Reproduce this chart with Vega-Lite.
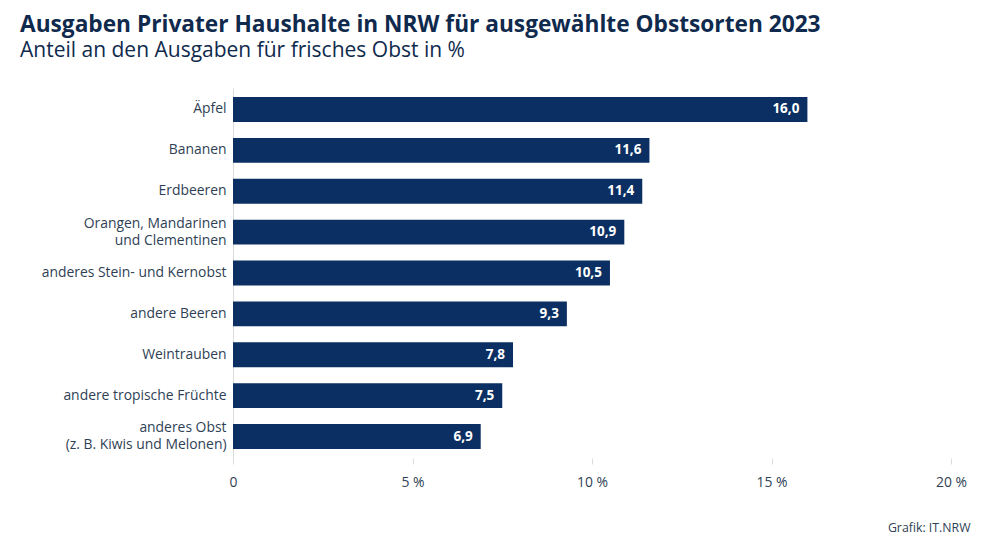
{
  "$schema": "https://vega.github.io/schema/vega-lite/v6.json",
  "autosize": "none",
  "width": 718,
  "height": 370,
  "padding": {"left": 233, "top": 88, "right": 48, "bottom": 84},
  "background": "white",
  "config": {
    "locale": {"number": {"decimal": ",", "thousands": ".", "grouping": [3], "currency": ["", " €"]}},
    "font": "Open Sans",
    "view": {"stroke": null}
  },
  "title": {
    "text": "Ausgaben Privater Haushalte in NRW für ausgewählte Obstsorten 2023",
    "subtitle": "Anteil an den Ausgaben für frisches Obst in %",
    "anchor": "start",
    "frame": "group",
    "dx": -213,
    "offset": 27,
    "font": "Open Sans",
    "fontSize": 22.7,
    "fontWeight": "bold",
    "color": "#0f2a4d",
    "subtitleFont": "Open Sans",
    "subtitleFontSize": 21,
    "subtitleColor": "#0f2a4d",
    "subtitlePadding": 3
  },
  "data": {
    "values": [
      {"sorte": "Äpfel", "anteil": 16.0},
      {"sorte": "Bananen", "anteil": 11.6},
      {"sorte": "Erdbeeren", "anteil": 11.4},
      {"sorte": "Orangen, Mandarinen|und Clementinen", "anteil": 10.9},
      {"sorte": "anderes Stein- und Kernobst", "anteil": 10.5},
      {"sorte": "andere Beeren", "anteil": 9.3},
      {"sorte": "Weintrauben", "anteil": 7.8},
      {"sorte": "andere tropische Früchte", "anteil": 7.5},
      {"sorte": "anderes Obst|(z. B. Kiwis und Melonen)", "anteil": 6.9}
    ]
  },
  "encoding": {
    "y": {
      "field": "sorte",
      "type": "nominal",
      "sort": null,
      "scale": {"paddingInner": 0.39, "paddingOuter": 0.22},
      "axis": {
        "title": null,
        "labelExpr": "split(datum.label, '|')",
        "labelFont": "Open Sans",
        "labelFontSize": 13.9,
        "labelColor": "#2f3f55",
        "labelLineHeight": 17,
        "labelOffset": {"condition": {"test": "indexof(datum.value, '|') >= 0", "value": -8.5}, "value": 0},
        "labelPadding": 7,
        "ticks": false,
        "domain": true,
        "domainColor": "#dcdcdc",
        "domainWidth": 1,
        "labelLimit": 300
      }
    },
    "x": {
      "field": "anteil",
      "type": "quantitative",
      "scale": {"domain": [0, 20], "nice": false},
      "axis": {
        "title": "Grafik: IT.NRW",
        "titleFont": "Open Sans",
        "titleFontSize": 12.3,
        "titleFontWeight": "normal",
        "titleColor": "#2f3f55",
        "titleAnchor": "end",
        "titleAlign": "right",
        "titleBaseline": "middle",
        "titleX": 737,
        "titleY": 69,
        "values": [0, 5, 10, 15, 20],
        "labelExpr": "datum.value == 0 ? '0' : datum.value + ' %'",
        "labelFont": "Open Sans",
        "labelFontSize": 13.9,
        "labelColor": "#2f3f55",
        "labelPadding": 11,
        "grid": false,
        "domain": false,
        "ticks": true,
        "tickColor": "#dcdcdc",
        "tickSize": 6,
        "labelFlush": false
      }
    }
  },
  "layer": [
    {"mark": {"type": "bar", "color": "#0b2f62"}},
    {
      "mark": {"type": "text", "align": "right", "dx": -8, "color": "white", "fontWeight": "bold", "fontSize": 13.5, "font": "Open Sans", "baseline": "middle"},
      "encoding": {"text": {"field": "anteil", "type": "quantitative", "format": ".1f"}}
    }
  ]
}
